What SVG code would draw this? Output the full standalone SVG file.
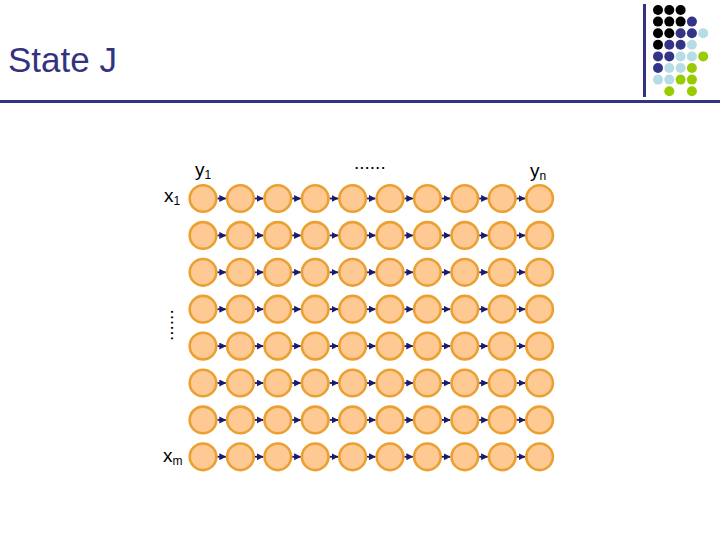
<svg xmlns="http://www.w3.org/2000/svg" width="720" height="540" viewBox="0 0 720 540">
<style>
.nd{fill:#FFC994;stroke:#EBA032;stroke-width:2.6}
.ar{stroke:#1A1A6E;stroke-width:1.8;fill:none;marker-end:url(#ah)}
.lb{font-family:"Liberation Sans",Arial,sans-serif;fill:#000}
.bk{fill:#000}.nv{fill:#333388}.lbl{fill:#B8DCE6}.gr{fill:#99CC00}
</style>
<defs>
<marker id="ah" markerUnits="userSpaceOnUse" markerWidth="8" markerHeight="8" refX="6.5" refY="3.5" orient="auto">
<path d="M0,0 L7,3.5 L0,7 z" fill="#1A1A6E"/>
</marker>
</defs>
<rect width="720" height="540" fill="#fff"/>
<g id="header">
<rect x="0" y="100" width="720" height="3" fill="#333380"/>
<rect x="643" y="4" width="3" height="93" fill="#333380"/>
<text x="8" y="72" font-family="Liberation Sans,Arial,sans-serif" font-size="35" fill="#333380">State J</text>
</g>
<g id="logo">
<circle class="bk" cx="658" cy="10" r="5"/><circle class="bk" cx="669.3" cy="10" r="5"/><circle class="bk" cx="680.6" cy="10" r="5"/>
<circle class="bk" cx="658" cy="21.6" r="5"/><circle class="bk" cx="669.3" cy="21.6" r="5"/><circle class="bk" cx="680.6" cy="21.6" r="5"/><circle class="nv" cx="691.9" cy="21.6" r="5"/>
<circle class="bk" cx="658" cy="33.2" r="5"/><circle class="bk" cx="669.3" cy="33.2" r="5"/><circle class="nv" cx="680.6" cy="33.2" r="5"/><circle class="nv" cx="691.9" cy="33.2" r="5"/><circle class="lbl" cx="703.2" cy="33.2" r="5"/>
<circle class="bk" cx="658" cy="44.8" r="5"/><circle class="nv" cx="669.3" cy="44.8" r="5"/><circle class="nv" cx="680.6" cy="44.8" r="5"/><circle class="lbl" cx="691.9" cy="44.8" r="5"/>
<circle class="nv" cx="658" cy="56.4" r="5"/><circle class="nv" cx="669.3" cy="56.4" r="5"/><circle class="lbl" cx="680.6" cy="56.4" r="5"/><circle class="lbl" cx="691.9" cy="56.4" r="5"/><circle class="gr" cx="703.2" cy="56.4" r="5"/>
<circle class="nv" cx="658" cy="68" r="5"/><circle class="lbl" cx="669.3" cy="68" r="5"/><circle class="lbl" cx="680.6" cy="68" r="5"/><circle class="gr" cx="691.9" cy="68" r="5"/>
<circle class="lbl" cx="658" cy="79.6" r="5"/><circle class="lbl" cx="669.3" cy="79.6" r="5"/><circle class="gr" cx="680.6" cy="79.6" r="5"/><circle class="gr" cx="691.9" cy="79.6" r="5"/>
<circle class="gr" cx="669.3" cy="91.2" r="5"/><circle class="gr" cx="691.9" cy="91.2" r="5"/>
</g>
<g id="labels">
<text class="lb" x="195" y="176" font-size="19">y<tspan font-size="12" dy="3">1</tspan></text>
<text class="lb" x="530" y="177" font-size="19">y<tspan font-size="12" dy="3">n</tspan></text>
<text class="lb" x="164" y="202" font-size="19">x<tspan font-size="12" dy="3">1</tspan></text>
<text class="lb" x="163" y="462" font-size="19">x<tspan font-size="12" dy="3">m</tspan></text>
<text class="lb" x="354" y="169" font-size="19">......</text>
<text class="lb" x="0" y="0" font-size="19" transform="translate(173,341) rotate(-90)">......</text>
</g>
<g id="connectors">
<g transform="translate(0,198.5)"><line class="ar" x1="217.3" y1="0" x2="225.8" y2="0"/><line class="ar" x1="254.7" y1="0" x2="263.2" y2="0"/><line class="ar" x1="292.1" y1="0" x2="300.6" y2="0"/><line class="ar" x1="329.5" y1="0" x2="338" y2="0"/><line class="ar" x1="366.9" y1="0" x2="375.4" y2="0"/><line class="ar" x1="404.3" y1="0" x2="412.8" y2="0"/><line class="ar" x1="441.7" y1="0" x2="450.2" y2="0"/><line class="ar" x1="479.1" y1="0" x2="487.6" y2="0"/><line class="ar" x1="516.5" y1="0" x2="525" y2="0"/></g>
<g transform="translate(0,235.4)"><line class="ar" x1="217.3" y1="0" x2="225.8" y2="0"/><line class="ar" x1="254.7" y1="0" x2="263.2" y2="0"/><line class="ar" x1="292.1" y1="0" x2="300.6" y2="0"/><line class="ar" x1="329.5" y1="0" x2="338" y2="0"/><line class="ar" x1="366.9" y1="0" x2="375.4" y2="0"/><line class="ar" x1="404.3" y1="0" x2="412.8" y2="0"/><line class="ar" x1="441.7" y1="0" x2="450.2" y2="0"/><line class="ar" x1="479.1" y1="0" x2="487.6" y2="0"/><line class="ar" x1="516.5" y1="0" x2="525" y2="0"/></g>
<g transform="translate(0,272.3)"><line class="ar" x1="217.3" y1="0" x2="225.8" y2="0"/><line class="ar" x1="254.7" y1="0" x2="263.2" y2="0"/><line class="ar" x1="292.1" y1="0" x2="300.6" y2="0"/><line class="ar" x1="329.5" y1="0" x2="338" y2="0"/><line class="ar" x1="366.9" y1="0" x2="375.4" y2="0"/><line class="ar" x1="404.3" y1="0" x2="412.8" y2="0"/><line class="ar" x1="441.7" y1="0" x2="450.2" y2="0"/><line class="ar" x1="479.1" y1="0" x2="487.6" y2="0"/><line class="ar" x1="516.5" y1="0" x2="525" y2="0"/></g>
<g transform="translate(0,309.2)"><line class="ar" x1="217.3" y1="0" x2="225.8" y2="0"/><line class="ar" x1="254.7" y1="0" x2="263.2" y2="0"/><line class="ar" x1="292.1" y1="0" x2="300.6" y2="0"/><line class="ar" x1="329.5" y1="0" x2="338" y2="0"/><line class="ar" x1="366.9" y1="0" x2="375.4" y2="0"/><line class="ar" x1="404.3" y1="0" x2="412.8" y2="0"/><line class="ar" x1="441.7" y1="0" x2="450.2" y2="0"/><line class="ar" x1="479.1" y1="0" x2="487.6" y2="0"/><line class="ar" x1="516.5" y1="0" x2="525" y2="0"/></g>
<g transform="translate(0,346.1)"><line class="ar" x1="217.3" y1="0" x2="225.8" y2="0"/><line class="ar" x1="254.7" y1="0" x2="263.2" y2="0"/><line class="ar" x1="292.1" y1="0" x2="300.6" y2="0"/><line class="ar" x1="329.5" y1="0" x2="338" y2="0"/><line class="ar" x1="366.9" y1="0" x2="375.4" y2="0"/><line class="ar" x1="404.3" y1="0" x2="412.8" y2="0"/><line class="ar" x1="441.7" y1="0" x2="450.2" y2="0"/><line class="ar" x1="479.1" y1="0" x2="487.6" y2="0"/><line class="ar" x1="516.5" y1="0" x2="525" y2="0"/></g>
<g transform="translate(0,383)"><line class="ar" x1="217.3" y1="0" x2="225.8" y2="0"/><line class="ar" x1="254.7" y1="0" x2="263.2" y2="0"/><line class="ar" x1="292.1" y1="0" x2="300.6" y2="0"/><line class="ar" x1="329.5" y1="0" x2="338" y2="0"/><line class="ar" x1="366.9" y1="0" x2="375.4" y2="0"/><line class="ar" x1="404.3" y1="0" x2="412.8" y2="0"/><line class="ar" x1="441.7" y1="0" x2="450.2" y2="0"/><line class="ar" x1="479.1" y1="0" x2="487.6" y2="0"/><line class="ar" x1="516.5" y1="0" x2="525" y2="0"/></g>
<g transform="translate(0,419.9)"><line class="ar" x1="217.3" y1="0" x2="225.8" y2="0"/><line class="ar" x1="254.7" y1="0" x2="263.2" y2="0"/><line class="ar" x1="292.1" y1="0" x2="300.6" y2="0"/><line class="ar" x1="329.5" y1="0" x2="338" y2="0"/><line class="ar" x1="366.9" y1="0" x2="375.4" y2="0"/><line class="ar" x1="404.3" y1="0" x2="412.8" y2="0"/><line class="ar" x1="441.7" y1="0" x2="450.2" y2="0"/><line class="ar" x1="479.1" y1="0" x2="487.6" y2="0"/><line class="ar" x1="516.5" y1="0" x2="525" y2="0"/></g>
<g transform="translate(0,456.8)"><line class="ar" x1="217.3" y1="0" x2="225.8" y2="0"/><line class="ar" x1="254.7" y1="0" x2="263.2" y2="0"/><line class="ar" x1="292.1" y1="0" x2="300.6" y2="0"/><line class="ar" x1="329.5" y1="0" x2="338" y2="0"/><line class="ar" x1="366.9" y1="0" x2="375.4" y2="0"/><line class="ar" x1="404.3" y1="0" x2="412.8" y2="0"/><line class="ar" x1="441.7" y1="0" x2="450.2" y2="0"/><line class="ar" x1="479.1" y1="0" x2="487.6" y2="0"/><line class="ar" x1="516.5" y1="0" x2="525" y2="0"/></g>
</g>
<g id="nodes">
<g id="r1" transform="translate(0,198.5)">
<g id="n1_1"><circle class="nd" cx="203" cy="0" r="13.3"/></g><g id="n1_2"><circle class="nd" cx="240.4" cy="0" r="13.3"/></g><g id="n1_3"><circle class="nd" cx="277.8" cy="0" r="13.3"/></g><g id="n1_4"><circle class="nd" cx="315.2" cy="0" r="13.3"/></g><g id="n1_5"><circle class="nd" cx="352.6" cy="0" r="13.3"/></g><g id="n1_6"><circle class="nd" cx="390" cy="0" r="13.3"/></g><g id="n1_7"><circle class="nd" cx="427.4" cy="0" r="13.3"/></g><g id="n1_8"><circle class="nd" cx="464.8" cy="0" r="13.3"/></g><g id="n1_9"><circle class="nd" cx="502.2" cy="0" r="13.3"/></g><g id="n1_10"><circle class="nd" cx="539.6" cy="0" r="13.3"/></g>
</g>
<g id="r2" transform="translate(0,235.4)">
<g id="n2_1"><circle class="nd" cx="203" cy="0" r="13.3"/></g><g id="n2_2"><circle class="nd" cx="240.4" cy="0" r="13.3"/></g><g id="n2_3"><circle class="nd" cx="277.8" cy="0" r="13.3"/></g><g id="n2_4"><circle class="nd" cx="315.2" cy="0" r="13.3"/></g><g id="n2_5"><circle class="nd" cx="352.6" cy="0" r="13.3"/></g><g id="n2_6"><circle class="nd" cx="390" cy="0" r="13.3"/></g><g id="n2_7"><circle class="nd" cx="427.4" cy="0" r="13.3"/></g><g id="n2_8"><circle class="nd" cx="464.8" cy="0" r="13.3"/></g><g id="n2_9"><circle class="nd" cx="502.2" cy="0" r="13.3"/></g><g id="n2_10"><circle class="nd" cx="539.6" cy="0" r="13.3"/></g>
</g>
<g id="r3" transform="translate(0,272.3)">
<g id="n3_1"><circle class="nd" cx="203" cy="0" r="13.3"/></g><g id="n3_2"><circle class="nd" cx="240.4" cy="0" r="13.3"/></g><g id="n3_3"><circle class="nd" cx="277.8" cy="0" r="13.3"/></g><g id="n3_4"><circle class="nd" cx="315.2" cy="0" r="13.3"/></g><g id="n3_5"><circle class="nd" cx="352.6" cy="0" r="13.3"/></g><g id="n3_6"><circle class="nd" cx="390" cy="0" r="13.3"/></g><g id="n3_7"><circle class="nd" cx="427.4" cy="0" r="13.3"/></g><g id="n3_8"><circle class="nd" cx="464.8" cy="0" r="13.3"/></g><g id="n3_9"><circle class="nd" cx="502.2" cy="0" r="13.3"/></g><g id="n3_10"><circle class="nd" cx="539.6" cy="0" r="13.3"/></g>
</g>
<g id="r4" transform="translate(0,309.2)">
<g id="n4_1"><circle class="nd" cx="203" cy="0" r="13.3"/></g><g id="n4_2"><circle class="nd" cx="240.4" cy="0" r="13.3"/></g><g id="n4_3"><circle class="nd" cx="277.8" cy="0" r="13.3"/></g><g id="n4_4"><circle class="nd" cx="315.2" cy="0" r="13.3"/></g><g id="n4_5"><circle class="nd" cx="352.6" cy="0" r="13.3"/></g><g id="n4_6"><circle class="nd" cx="390" cy="0" r="13.3"/></g><g id="n4_7"><circle class="nd" cx="427.4" cy="0" r="13.3"/></g><g id="n4_8"><circle class="nd" cx="464.8" cy="0" r="13.3"/></g><g id="n4_9"><circle class="nd" cx="502.2" cy="0" r="13.3"/></g><g id="n4_10"><circle class="nd" cx="539.6" cy="0" r="13.3"/></g>
</g>
<g id="r5" transform="translate(0,346.1)">
<g id="n5_1"><circle class="nd" cx="203" cy="0" r="13.3"/></g><g id="n5_2"><circle class="nd" cx="240.4" cy="0" r="13.3"/></g><g id="n5_3"><circle class="nd" cx="277.8" cy="0" r="13.3"/></g><g id="n5_4"><circle class="nd" cx="315.2" cy="0" r="13.3"/></g><g id="n5_5"><circle class="nd" cx="352.6" cy="0" r="13.3"/></g><g id="n5_6"><circle class="nd" cx="390" cy="0" r="13.3"/></g><g id="n5_7"><circle class="nd" cx="427.4" cy="0" r="13.3"/></g><g id="n5_8"><circle class="nd" cx="464.8" cy="0" r="13.3"/></g><g id="n5_9"><circle class="nd" cx="502.2" cy="0" r="13.3"/></g><g id="n5_10"><circle class="nd" cx="539.6" cy="0" r="13.3"/></g>
</g>
<g id="r6" transform="translate(0,383)">
<g id="n6_1"><circle class="nd" cx="203" cy="0" r="13.3"/></g><g id="n6_2"><circle class="nd" cx="240.4" cy="0" r="13.3"/></g><g id="n6_3"><circle class="nd" cx="277.8" cy="0" r="13.3"/></g><g id="n6_4"><circle class="nd" cx="315.2" cy="0" r="13.3"/></g><g id="n6_5"><circle class="nd" cx="352.6" cy="0" r="13.3"/></g><g id="n6_6"><circle class="nd" cx="390" cy="0" r="13.3"/></g><g id="n6_7"><circle class="nd" cx="427.4" cy="0" r="13.3"/></g><g id="n6_8"><circle class="nd" cx="464.8" cy="0" r="13.3"/></g><g id="n6_9"><circle class="nd" cx="502.2" cy="0" r="13.3"/></g><g id="n6_10"><circle class="nd" cx="539.6" cy="0" r="13.3"/></g>
</g>
<g id="r7" transform="translate(0,419.9)">
<g id="n7_1"><circle class="nd" cx="203" cy="0" r="13.3"/></g><g id="n7_2"><circle class="nd" cx="240.4" cy="0" r="13.3"/></g><g id="n7_3"><circle class="nd" cx="277.8" cy="0" r="13.3"/></g><g id="n7_4"><circle class="nd" cx="315.2" cy="0" r="13.3"/></g><g id="n7_5"><circle class="nd" cx="352.6" cy="0" r="13.3"/></g><g id="n7_6"><circle class="nd" cx="390" cy="0" r="13.3"/></g><g id="n7_7"><circle class="nd" cx="427.4" cy="0" r="13.3"/></g><g id="n7_8"><circle class="nd" cx="464.8" cy="0" r="13.3"/></g><g id="n7_9"><circle class="nd" cx="502.2" cy="0" r="13.3"/></g><g id="n7_10"><circle class="nd" cx="539.6" cy="0" r="13.3"/></g>
</g>
<g id="r8" transform="translate(0,456.8)">
<g id="n8_1"><circle class="nd" cx="203" cy="0" r="13.3"/></g><g id="n8_2"><circle class="nd" cx="240.4" cy="0" r="13.3"/></g><g id="n8_3"><circle class="nd" cx="277.8" cy="0" r="13.3"/></g><g id="n8_4"><circle class="nd" cx="315.2" cy="0" r="13.3"/></g><g id="n8_5"><circle class="nd" cx="352.6" cy="0" r="13.3"/></g><g id="n8_6"><circle class="nd" cx="390" cy="0" r="13.3"/></g><g id="n8_7"><circle class="nd" cx="427.4" cy="0" r="13.3"/></g><g id="n8_8"><circle class="nd" cx="464.8" cy="0" r="13.3"/></g><g id="n8_9"><circle class="nd" cx="502.2" cy="0" r="13.3"/></g><g id="n8_10"><circle class="nd" cx="539.6" cy="0" r="13.3"/></g>
</g>
</g>
</svg>
